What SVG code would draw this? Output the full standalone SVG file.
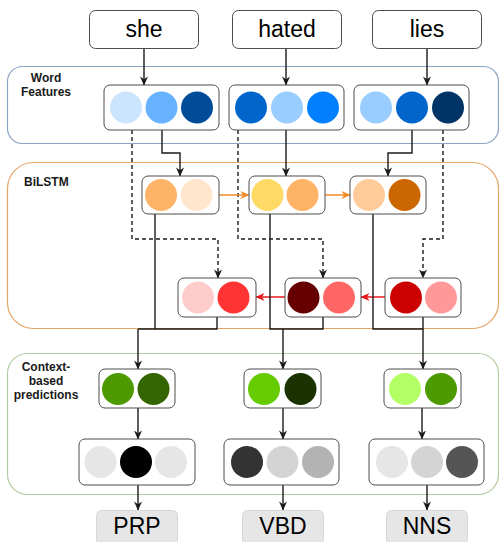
<svg xmlns="http://www.w3.org/2000/svg" width="499" height="542" viewBox="0 0 499 542">
  <style>
    .lbl { font-family: "Liberation Sans", Arial, sans-serif; font-weight: bold; font-size: 12px; fill: #1a1a1a; }
    .word { font-family: "Liberation Sans", Arial, sans-serif; font-size: 23px; fill: #000; text-anchor: middle; }
    .wbox { fill: #fff; stroke: #4d4d4d; stroke-width: 1; }
    .vbox { fill: #fff; stroke: #4d4d4d; stroke-width: 1; }
    .tag { fill: #e6e6e6; stroke: #d6d6d6; stroke-width: 1; }
    .conn { fill: none; stroke: #1a1a1a; stroke-width: 1.4; }
    .dash { fill: none; stroke: #1a1a1a; stroke-width: 1.4; stroke-dasharray: 4 3; }
    .fwd { fill: none; stroke: #f08c28; stroke-width: 1.5; }
    .bwd { fill: none; stroke: #e81818; stroke-width: 1.5; }
  </style>
  <defs>
    <marker id="ah" viewBox="0 0 10 10" refX="9.5" refY="5" markerWidth="9" markerHeight="9" markerUnits="userSpaceOnUse" orient="auto">
      <path d="M0,0.5 L10,5 L0,9.5 L3,5 z" fill="#1a1a1a"/>
    </marker>
    <marker id="ah-o" viewBox="0 0 10 10" refX="9.5" refY="5" markerWidth="9" markerHeight="9" markerUnits="userSpaceOnUse" orient="auto">
      <path d="M0,0.5 L10,5 L0,9.5 L3,5 z" fill="#f08c28"/>
    </marker>
    <marker id="ah-r" viewBox="0 0 10 10" refX="9.5" refY="5" markerWidth="9" markerHeight="9" markerUnits="userSpaceOnUse" orient="auto">
      <path d="M0,0.5 L10,5 L0,9.5 L3,5 z" fill="#e81818"/>
    </marker>
  </defs>

  <rect width="499" height="542" fill="#fff"/>

  <!-- layer containers -->
  <g id="layer-word-features">
    <rect x="7.5" y="66.5" width="491" height="77" rx="15" fill="none" stroke="#8aa4c4" stroke-width="1.2"/>
    <text class="lbl" x="46" y="82" text-anchor="middle">Word</text>
    <text class="lbl" x="46" y="96" text-anchor="middle">Features</text>
  </g>
  <g id="layer-bilstm">
    <rect x="7.5" y="162.5" width="491" height="166" rx="26" fill="none" stroke="#e3a466" stroke-width="1.2"/>
    <text class="lbl" x="24" y="186">BiLSTM</text>
  </g>
  <g id="layer-predictions">
    <rect x="7.5" y="353.5" width="491" height="141" rx="20" fill="none" stroke="#b2cba0" stroke-width="1.2"/>
    <text class="lbl" x="46" y="371" text-anchor="middle">Context-</text>
    <text class="lbl" x="46" y="385" text-anchor="middle">based</text>
    <text class="lbl" x="46" y="399" text-anchor="middle">predictions</text>
  </g>

  <!-- connectors -->
  <g id="connectors">
    <!-- words to features -->
    <path class="conn" d="M144,48 V85" marker-end="url(#ah)"/>
    <path class="conn" d="M286,48 V85" marker-end="url(#ah)"/>
    <path class="conn" d="M427,48 V85" marker-end="url(#ah)"/>
    <!-- features to forward LSTM -->
    <path class="conn" d="M162,130 V153 H180 V176" marker-end="url(#ah)"/>
    <path class="conn" d="M286,130 V176" marker-end="url(#ah)"/>
    <path class="conn" d="M412,130 V153 H388 V176" marker-end="url(#ah)"/>
    <!-- features to backward LSTM -->
    <path class="dash" d="M132,130 V239 H218 V278" marker-end="url(#ah)"/>
    <path class="dash" d="M238,130 V239 H323 V278" marker-end="url(#ah)"/>
    <path class="dash" d="M443,130 V239 H423 V278" marker-end="url(#ah)"/>
    <!-- forward chain -->
    <path class="fwd" d="M219,195 H249" marker-end="url(#ah-o)"/>
    <path class="fwd" d="M325,195 H350" marker-end="url(#ah-o)"/>
    <!-- backward chain -->
    <path class="bwd" d="M385,297 H361" marker-end="url(#ah-r)"/>
    <path class="bwd" d="M285,297 H256" marker-end="url(#ah-r)"/>
    <!-- merge forward/backward into predictions -->
    <path class="conn" d="M155,214 V329"/>
    <path class="conn" d="M217,317 V329 H138"/>
    <path class="conn" d="M138,329 V369" marker-end="url(#ah)"/>
    <path class="conn" d="M270,214 V329 H323 V317"/>
    <path class="conn" d="M283,329 V369" marker-end="url(#ah)"/>
    <path class="conn" d="M373,214 V329 H423 V317"/>
    <path class="conn" d="M423,329 V369" marker-end="url(#ah)"/>
    <!-- predictions to output vectors -->
    <path class="conn" d="M138,408 V439" marker-end="url(#ah)"/>
    <path class="conn" d="M283,408 V439" marker-end="url(#ah)"/>
    <path class="conn" d="M422,408 V439" marker-end="url(#ah)"/>
    <!-- output vectors to tags -->
    <path class="conn" d="M138,485 V510" marker-end="url(#ah)"/>
    <path class="conn" d="M283,485 V510" marker-end="url(#ah)"/>
    <path class="conn" d="M427,485 V510" marker-end="url(#ah)"/>
  </g>

  <!-- input words -->
  <g id="word-she">
    <rect class="wbox" x="89.5" y="10.5" width="109" height="38" rx="6"/>
    <text class="word" x="144" y="37">she</text>
  </g>
  <g id="word-hated">
    <rect class="wbox" x="232.5" y="10.5" width="109" height="38" rx="6"/>
    <text class="word" x="287" y="37">hated</text>
  </g>
  <g id="word-lies">
    <rect class="wbox" x="372.5" y="10.5" width="109" height="38" rx="6"/>
    <text class="word" x="427" y="37">lies</text>
  </g>

  <!-- word feature vectors -->
  <g id="feat-she">
    <rect class="vbox" x="104" y="85" width="115" height="45" rx="6"/>
    <circle cx="126" cy="107.5" r="16" fill="#cce5ff"/>
    <circle cx="161.5" cy="107.5" r="16" fill="#66b2ff"/>
    <circle cx="197" cy="107.5" r="16" fill="#004c99"/>
  </g>
  <g id="feat-hated">
    <rect class="vbox" x="229" y="85" width="115" height="45" rx="6"/>
    <circle cx="251" cy="107.5" r="16" fill="#0066cc"/>
    <circle cx="287" cy="107.5" r="16" fill="#99ccff"/>
    <circle cx="323" cy="107.5" r="16" fill="#007fff"/>
  </g>
  <g id="feat-lies">
    <rect class="vbox" x="354" y="85" width="115" height="45" rx="6"/>
    <circle cx="376" cy="107.5" r="16" fill="#99ccff"/>
    <circle cx="412" cy="107.5" r="16" fill="#0066cc"/>
    <circle cx="448" cy="107.5" r="16" fill="#003366"/>
  </g>

  <!-- forward LSTM states -->
  <g id="fwd-1">
    <rect class="vbox" x="142" y="176" width="77" height="38" rx="6"/>
    <circle cx="161" cy="195" r="16" fill="#ffb366"/>
    <circle cx="196.5" cy="195" r="16" fill="#ffe6cc"/>
  </g>
  <g id="fwd-2">
    <rect class="vbox" x="249" y="176" width="76" height="38" rx="6"/>
    <circle cx="267.5" cy="195" r="16" fill="#ffd966"/>
    <circle cx="302.5" cy="195" r="16" fill="#ffb366"/>
  </g>
  <g id="fwd-3">
    <rect class="vbox" x="350" y="176" width="76" height="38" rx="6"/>
    <circle cx="369" cy="195" r="16" fill="#ffcc99"/>
    <circle cx="404.5" cy="195" r="16" fill="#cc6600"/>
  </g>

  <!-- backward LSTM states -->
  <g id="bwd-1">
    <rect class="vbox" x="178" y="278" width="78" height="39" rx="6"/>
    <circle cx="198" cy="297.5" r="16" fill="#ffcccc"/>
    <circle cx="233.5" cy="297.5" r="16" fill="#ff3333"/>
  </g>
  <g id="bwd-2">
    <rect class="vbox" x="285" y="278" width="76" height="39" rx="6"/>
    <circle cx="303.5" cy="297.5" r="16" fill="#660000"/>
    <circle cx="339" cy="297.5" r="16" fill="#ff6666"/>
  </g>
  <g id="bwd-3">
    <rect class="vbox" x="385" y="278" width="76" height="39" rx="6"/>
    <circle cx="406" cy="297.5" r="16" fill="#cc0000"/>
    <circle cx="441" cy="297.5" r="16" fill="#ff9999"/>
  </g>

  <!-- context-based predictions -->
  <g id="pred-1">
    <rect class="vbox" x="99" y="369" width="76" height="39" rx="6"/>
    <circle cx="118" cy="389" r="16" fill="#4d9900"/>
    <circle cx="153.5" cy="389" r="16" fill="#336600"/>
  </g>
  <g id="pred-2">
    <rect class="vbox" x="244" y="369" width="77" height="39" rx="6"/>
    <circle cx="264" cy="389" r="16" fill="#66cc00"/>
    <circle cx="300.5" cy="389" r="16" fill="#1a3300"/>
  </g>
  <g id="pred-3">
    <rect class="vbox" x="384" y="369" width="77" height="39" rx="6"/>
    <circle cx="405" cy="389" r="16" fill="#b3ff66"/>
    <circle cx="441" cy="389" r="16" fill="#4d9900"/>
  </g>

  <!-- output distributions -->
  <g id="out-1">
    <rect class="vbox" x="79" y="439" width="116" height="46" rx="6"/>
    <circle cx="100.5" cy="462" r="16" fill="#e6e6e6"/>
    <circle cx="136" cy="462" r="16" fill="#000000"/>
    <circle cx="171" cy="462" r="16" fill="#e6e6e6"/>
  </g>
  <g id="out-2">
    <rect class="vbox" x="224" y="439" width="115" height="46" rx="6"/>
    <circle cx="247" cy="462" r="16" fill="#333333"/>
    <circle cx="282.5" cy="462" r="16" fill="#d4d4d4"/>
    <circle cx="318" cy="462" r="16" fill="#b3b3b3"/>
  </g>
  <g id="out-3">
    <rect class="vbox" x="369" y="439" width="115" height="46" rx="6"/>
    <circle cx="392" cy="462" r="16" fill="#e6e6e6"/>
    <circle cx="427" cy="462" r="16" fill="#d4d4d4"/>
    <circle cx="462" cy="462" r="16" fill="#555555"/>
  </g>

  <!-- tags -->
  <g id="tag-prp">
    <rect class="tag" x="96.5" y="510.5" width="81" height="34" rx="5"/>
    <text class="word" x="137" y="534">PRP</text>
  </g>
  <g id="tag-vbd">
    <rect class="tag" x="242.5" y="510.5" width="81" height="34" rx="5"/>
    <text class="word" x="283" y="534">VBD</text>
  </g>
  <g id="tag-nns">
    <rect class="tag" x="386.5" y="510.5" width="81" height="34" rx="5"/>
    <text class="word" x="427" y="534">NNS</text>
  </g>
</svg>
